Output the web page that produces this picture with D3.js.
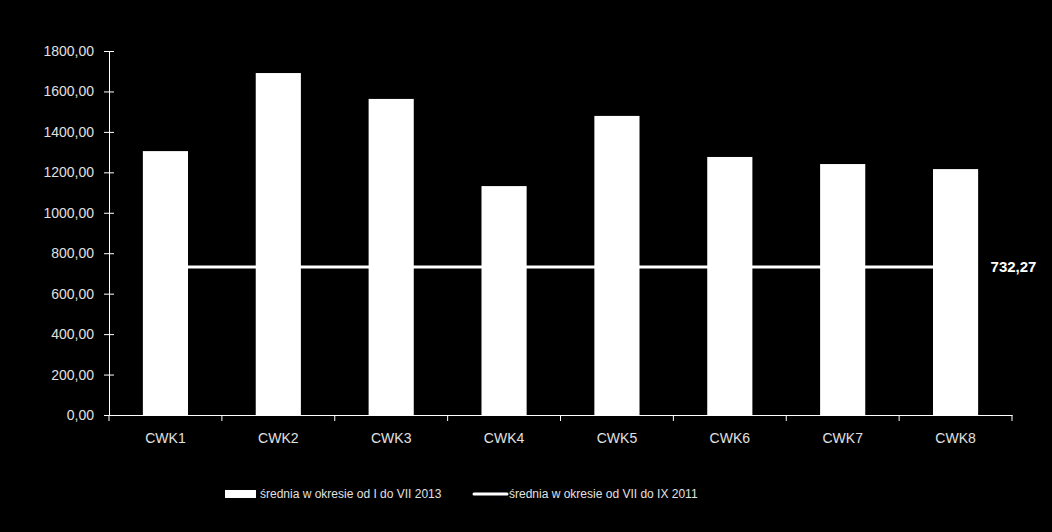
<!DOCTYPE html>
<html>
<head>
<meta charset="utf-8">
<script src="https://cdn.jsdelivr.net/npm/d3@7"></script>
<style>
  body { margin: 0; background: #000; }
  svg { display: block; background: #000; }
  text { font-family: "Liberation Sans", Arial, sans-serif; fill: #fff; }
</style>
</head>
<body>
<svg width="1052" height="532"></svg>
<script>
// ---- data
const categories = ['CWK1', 'CWK2', 'CWK3', 'CWK4', 'CWK5', 'CWK6', 'CWK7', 'CWK8'];
const avg2013 = [1305, 1691, 1563, 1132, 1479, 1276, 1241, 1216];
const avg2011 = 732.27;
const yTicks = [0, 200, 400, 600, 800, 1000, 1200, 1400, 1600, 1800];
const seriesNames = ['średnia w okresie od I do VII 2013', 'średnia w okresie od VII do IX 2011'];

const svg = d3.select('svg');
const margins = { left: 109, right: 40, top: 51, bottom: 117 };
const width = 1052 - margins.left - margins.right;
const height = 532 - margins.top - margins.bottom;

const fmt = v => d3.format('.2f')(v).replace('.', ',');
const labelColor = '#e0e0e0';

const x = d3.scaleBand().domain(categories).range([0, width]);
const y = d3.scaleLinear().domain([0, 1800]).range([height, 0]);

const g = svg.append('g')
    .attr('transform', `translate(${margins.left}, ${margins.top})`);

// bars
const barW = x.bandwidth() * 0.4;
g.selectAll('rect.bar')
    .data(categories)
    .join('rect')
    .attr('class', 'bar')
    .attr('x', d => x(d) + (x.bandwidth() - barW) / 2)
    .attr('y', (d, i) => y(avg2013[i]))
    .attr('width', barW)
    .attr('height', (d, i) => height - y(avg2013[i]))
    .style('fill', '#fff');

// line series
const line = d3.line()
    .x(d => x(d) + x.bandwidth() / 2)
    .y(() => y(avg2011));
g.append('path')
    .datum(categories)
    .attr('d', line)
    .style('fill', 'none')
    .style('stroke', '#fff')
    .style('stroke-width', 3);

g.append('text')
    .attr('x', x(categories[7]) + x.bandwidth() / 2 + 35)
    .attr('y', y(avg2011))
    .attr('dy', '0.35em')
    .style('font-size', '15px')
    .style('font-weight', 'bold')
    .text(fmt(avg2011));

// y axis
const yAxis = g.append('g')
    .call(d3.axisLeft(y).tickValues(yTicks).tickFormat(fmt).tickSize(5).tickSizeOuter(0));
yAxis.selectAll('.tick line').attr('x2', 5).attr('x1', -5);
yAxis.selectAll('line, path').style('stroke', '#fff');
yAxis.selectAll('text')
    .attr('x', -15)
    .style('fill', labelColor)
    .style('font-size', '14px')
    .style('font-family', '"Liberation Sans", Arial, sans-serif');

// x axis
const xAxis = g.append('g')
    .attr('transform', `translate(0, ${height})`)
    .call(d3.axisBottom(x).tickSize(0).tickSizeOuter(0));
xAxis.select('path').style('stroke', '#fff');
xAxis.selectAll('text')
    .attr('dy', '0')
    .attr('y', 28)
    .style('fill', labelColor)
    .style('font-size', '14px')
    .style('font-family', '"Liberation Sans", Arial, sans-serif');
xAxis.selectAll('line.sep')
    .data(d3.range(categories.length + 1))
    .join('line')
    .attr('class', 'sep')
    .attr('x1', i => i * x.step())
    .attr('x2', i => i * x.step())
    .attr('y1', 0)
    .attr('y2', 6)
    .style('stroke', '#fff');

// legend
const legend = svg.append('g').attr('transform', 'translate(0, 494)');
legend.append('rect')
    .attr('x', 225).attr('y', -4).attr('width', 31).attr('height', 8)
    .style('fill', '#fff');
legend.append('text')
    .attr('x', 260).attr('dy', '0.35em')
    .style('font-size', '12px')
    .style('fill', labelColor)
    .text(seriesNames[0]);
legend.append('line')
    .attr('x1', 474).attr('x2', 507).attr('y1', 0).attr('y2', 0)
    .style('stroke', '#fff').style('stroke-width', 3).style('stroke-linecap', 'round');
legend.append('text')
    .attr('x', 509).attr('dy', '0.35em')
    .style('font-size', '12px')
    .style('fill', labelColor)
    .text(seriesNames[1]);
</script>
</body>
</html>
